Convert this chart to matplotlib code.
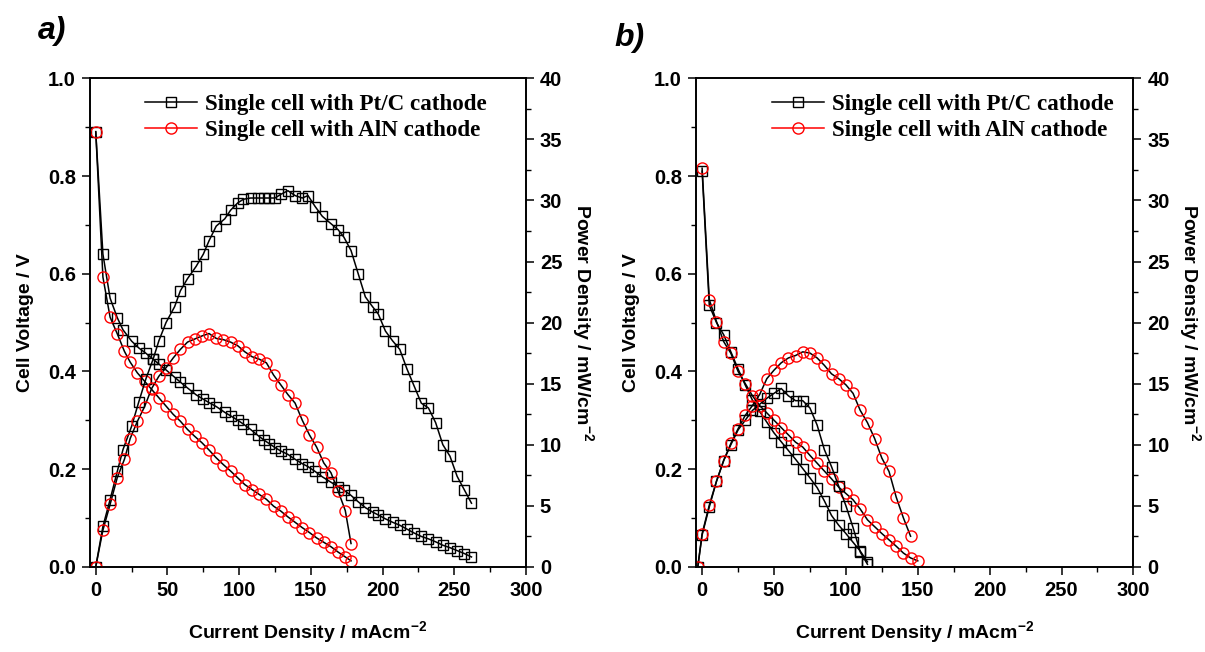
import matplotlib
matplotlib.use('Agg')
import matplotlib.pyplot as plt
from matplotlib.lines import Line2D
from matplotlib.ticker import MultipleLocator

# ---- panel a) ----
# Pt/C cathode (current density in mA/cm2, voltage in V, power in mW/cm2)
I_a_pt = [0, 5, 10, 15, 19, 25, 30, 35, 40, 44, 49, 55, 59, 64, 70, 75, 79, 84, 90, 94,
          99, 103, 108, 113, 117, 121, 125, 129, 134, 139, 144, 148, 153, 158, 164, 169, 173, 178, 183, 188,
          193, 197, 202, 207, 212, 217, 222, 227, 232, 237, 242, 247, 252, 257, 262]
V_a_pt = [0.89, 0.64, 0.55, 0.51, 0.485, 0.462, 0.448, 0.437, 0.425, 0.415, 0.403, 0.388, 0.378, 0.366, 0.352,
          0.343, 0.336, 0.328, 0.316, 0.309, 0.300, 0.292, 0.281, 0.269, 0.260, 0.252, 0.244, 0.237, 0.230, 0.220,
          0.211, 0.205, 0.195, 0.184, 0.173, 0.164, 0.157, 0.146, 0.133, 0.121, 0.112, 0.106, 0.098, 0.091, 0.085,
          0.077, 0.069, 0.062, 0.057, 0.051, 0.044, 0.039, 0.033, 0.027, 0.020]
P_a_pt = [0, 3.3, 5.5, 7.8, 9.6, 11.5, 13.5, 15.4, 17.0, 18.5, 20.0, 21.3, 22.6, 23.6, 24.6, 25.6, 26.7, 27.9,
          28.5, 29.2, 29.8, 30.1, 30.2, 30.2, 30.2, 30.2, 30.2, 30.5, 30.8, 30.4, 30.2, 30.4, 29.5, 28.7, 28.1,
          27.6, 27.0, 25.9, 24.0, 22.1, 21.3, 20.7, 19.3, 18.5, 17.8, 16.2, 14.8, 13.4, 13.0, 11.8, 10.0, 9.05,
          7.4, 6.3, 5.2]
# AlN cathode
I_a_aln = [0, 5, 10, 15, 20, 24, 29, 34, 39, 44, 49, 54, 59, 64, 69, 74, 79, 84, 89, 94, 99, 104, 109,
           114, 119, 124, 129, 134, 139, 144, 149, 154, 159, 164, 169, 174, 178]
V_a_aln = [0.891, 0.593, 0.511, 0.477, 0.441, 0.419, 0.397, 0.380, 0.363, 0.346, 0.329, 0.312, 0.298, 0.281,
           0.267, 0.254, 0.239, 0.223, 0.209, 0.196, 0.182, 0.168, 0.158, 0.148, 0.138, 0.124, 0.114, 0.102,
           0.091, 0.080, 0.070, 0.059, 0.050, 0.041, 0.030, 0.020, 0.012]
P_a_aln = [0, 3.0, 5.1, 7.3, 8.8, 10.5, 11.9, 13.1, 14.6, 15.6, 16.3, 17.1, 17.8, 18.4, 18.65, 18.9, 19.1,
           18.7, 18.6, 18.4, 18.1, 17.6, 17.2, 17.0, 16.7, 15.7, 14.9, 14.1, 13.4, 12.0, 10.8, 9.8, 8.5, 7.7,
           6.2, 4.6, 1.9]

# ---- panel b) ----
I_b_pt_v = [0, 5, 10, 15, 20, 25, 30, 35, 40, 45, 50, 55, 60, 65, 70, 75, 80, 85, 90, 95, 100, 105, 110, 115]
V_b_pt = [0.81, 0.535, 0.50, 0.475, 0.44, 0.405, 0.372, 0.341, 0.318, 0.296, 0.274, 0.256, 0.238, 0.220,
          0.201, 0.182, 0.162, 0.135, 0.105, 0.085, 0.068, 0.05, 0.032, 0.01]
I_b_pt_p = [-3, 0, 5, 10, 15, 20, 25, 30, 35, 40, 45, 50, 55, 60, 65, 70, 75, 80, 85, 90, 95, 100, 105, 110, 115]
P_b_pt = [0, 2.6, 4.9, 7.0, 8.7, 10.0, 11.2, 12.0, 12.8, 13.3, 13.8, 14.2, 14.6, 14.0, 13.6, 13.6, 13.0,
          11.6, 9.6, 8.2, 6.6, 5.0, 3.2, 1.2, 0.2]
I_b_aln_v = [0, 5, 10, 15, 20, 25, 30, 35, 40, 45, 50, 55, 60, 65, 70, 75, 80, 85, 90, 95, 100, 105, 110,
             115, 120, 125, 130, 135, 140, 145, 150]
V_b_aln = [0.816, 0.547, 0.502, 0.461, 0.437, 0.40, 0.375, 0.35, 0.33, 0.315, 0.30, 0.285, 0.27, 0.255, 0.245,
           0.228, 0.212, 0.196, 0.18, 0.163, 0.15, 0.137, 0.118, 0.096, 0.082, 0.068, 0.055, 0.042, 0.028,
           0.018, 0.012]
I_b_aln_p = [-3, 0, 5, 10, 15, 20, 25, 30, 35, 40, 45, 50, 55, 60, 65, 70, 75, 80, 85, 90, 95, 100, 105,
             110, 115, 120, 125, 130, 135, 140, 145]
P_b_aln = [0, 2.7, 5.05, 7.0, 8.7, 10.1, 11.3, 12.4, 13.2, 14.1, 15.4, 16.1, 16.7, 17.1, 17.3, 17.6, 17.5,
           17.1, 16.5, 15.8, 15.4, 14.9, 14.2, 12.8, 11.8, 10.5, 8.9, 7.8, 5.7, 4.0, 2.5]

labels = ['Single cell with Pt/C cathode', 'Single cell with AlN cathode']

plt.rcParams['font.family'] = ['Liberation Sans', 'DejaVu Sans']
plt.rcParams['font.weight'] = 'bold'
plt.rcParams['axes.labelweight'] = 'bold'
plt.rcParams['axes.linewidth'] = 1.2
plt.rcParams['mathtext.fontset'] = 'custom'
plt.rcParams['mathtext.rm'] = 'Liberation Sans:bold'
plt.rcParams['mathtext.default'] = 'regular'

fig = plt.figure(figsize=(12.05, 6.52), dpi=100)
fig.set_facecolor('w')

sq = dict(marker='s', ms=7.2, mfc='none', mec='k', mew=1.0, color='k', lw=1.1)
ci = dict(marker='o', ms=8, mfc='none', mec='red', mew=1.0, color='k', lw=1.1)


def setup(ax, ax2, xmin):
    ax.set_xlim(xmin, 300)
    ax.set_ylim(0, 1.0)
    ax2.set_ylim(0, 40)
    ax.xaxis.set_major_locator(MultipleLocator(50))
    ax.xaxis.set_minor_locator(MultipleLocator(25))
    ax.yaxis.set_major_locator(MultipleLocator(0.2))
    ax.yaxis.set_minor_locator(MultipleLocator(0.1))
    ax.yaxis.set_major_formatter(plt.FormatStrFormatter('%.1f'))
    ax2.yaxis.set_major_locator(MultipleLocator(5))
    ax2.yaxis.set_minor_locator(MultipleLocator(2.5))
    for a in [ax, ax2]:
        a.tick_params(which='major', direction='out', length=6, width=1.1, labelsize=14.5, pad=4)
        a.tick_params(which='minor', direction='out', length=3.5, width=1.0)
    ax.tick_params(top=False, right=False, which='both')
    ax.set_xlabel('Current Density / mAcm$^{-2}$', fontsize=14, labelpad=14)
    ax.set_ylabel('Cell Voltage / V', fontsize=14, labelpad=10)
    ax2.set_ylabel('Power Density / mW/cm$^{-2}$', fontsize=14, rotation=270, labelpad=24)


handles = [Line2D([], [], **sq), Line2D([], [], **dict(ci, color='red'))]
leg_kw = dict(loc='upper left', frameon=False,
              prop={'family': 'Liberation Serif', 'weight': 'bold', 'size': 16.6},
              handlelength=2.25, handletextpad=0.35, labelspacing=0.2, borderpad=0, borderaxespad=0)

# panel a
ax1 = fig.add_axes([0.0747, 0.1308, 0.3618, 0.749])
ax1b = ax1.twinx()
ax1.plot(I_a_pt, V_a_pt, **sq)
ax1.plot(I_a_aln, V_a_aln, **ci)
ax1b.plot(I_a_pt, P_a_pt, **sq)
ax1b.plot(I_a_aln, P_a_aln, **ci)
setup(ax1, ax1b, -4)
ax1b.legend(handles, labels, bbox_to_anchor=(0.126, 0.968), **leg_kw)

# panel b
ax2 = fig.add_axes([0.5773, 0.1308, 0.3633, 0.749])
ax2b = ax2.twinx()
ax2.plot(I_b_pt_v, V_b_pt, **sq)
ax2.plot(I_b_aln_v, V_b_aln, **ci)
ax2b.plot(I_b_pt_p, P_b_pt, **sq)
ax2b.plot(I_b_aln_p, P_b_aln, **ci)
setup(ax2, ax2b, -4.5)
ax2b.legend(handles, labels, bbox_to_anchor=(0.174, 0.968), **leg_kw)

fig.text(0.0315, 0.975, 'a)', fontsize=23, fontweight='bold', style='italic', ha='left', va='top')
fig.text(0.510, 0.965, 'b)', fontsize=23, fontweight='bold', style='italic', ha='left', va='top')

fig.savefig('out.png', dpi=100)
